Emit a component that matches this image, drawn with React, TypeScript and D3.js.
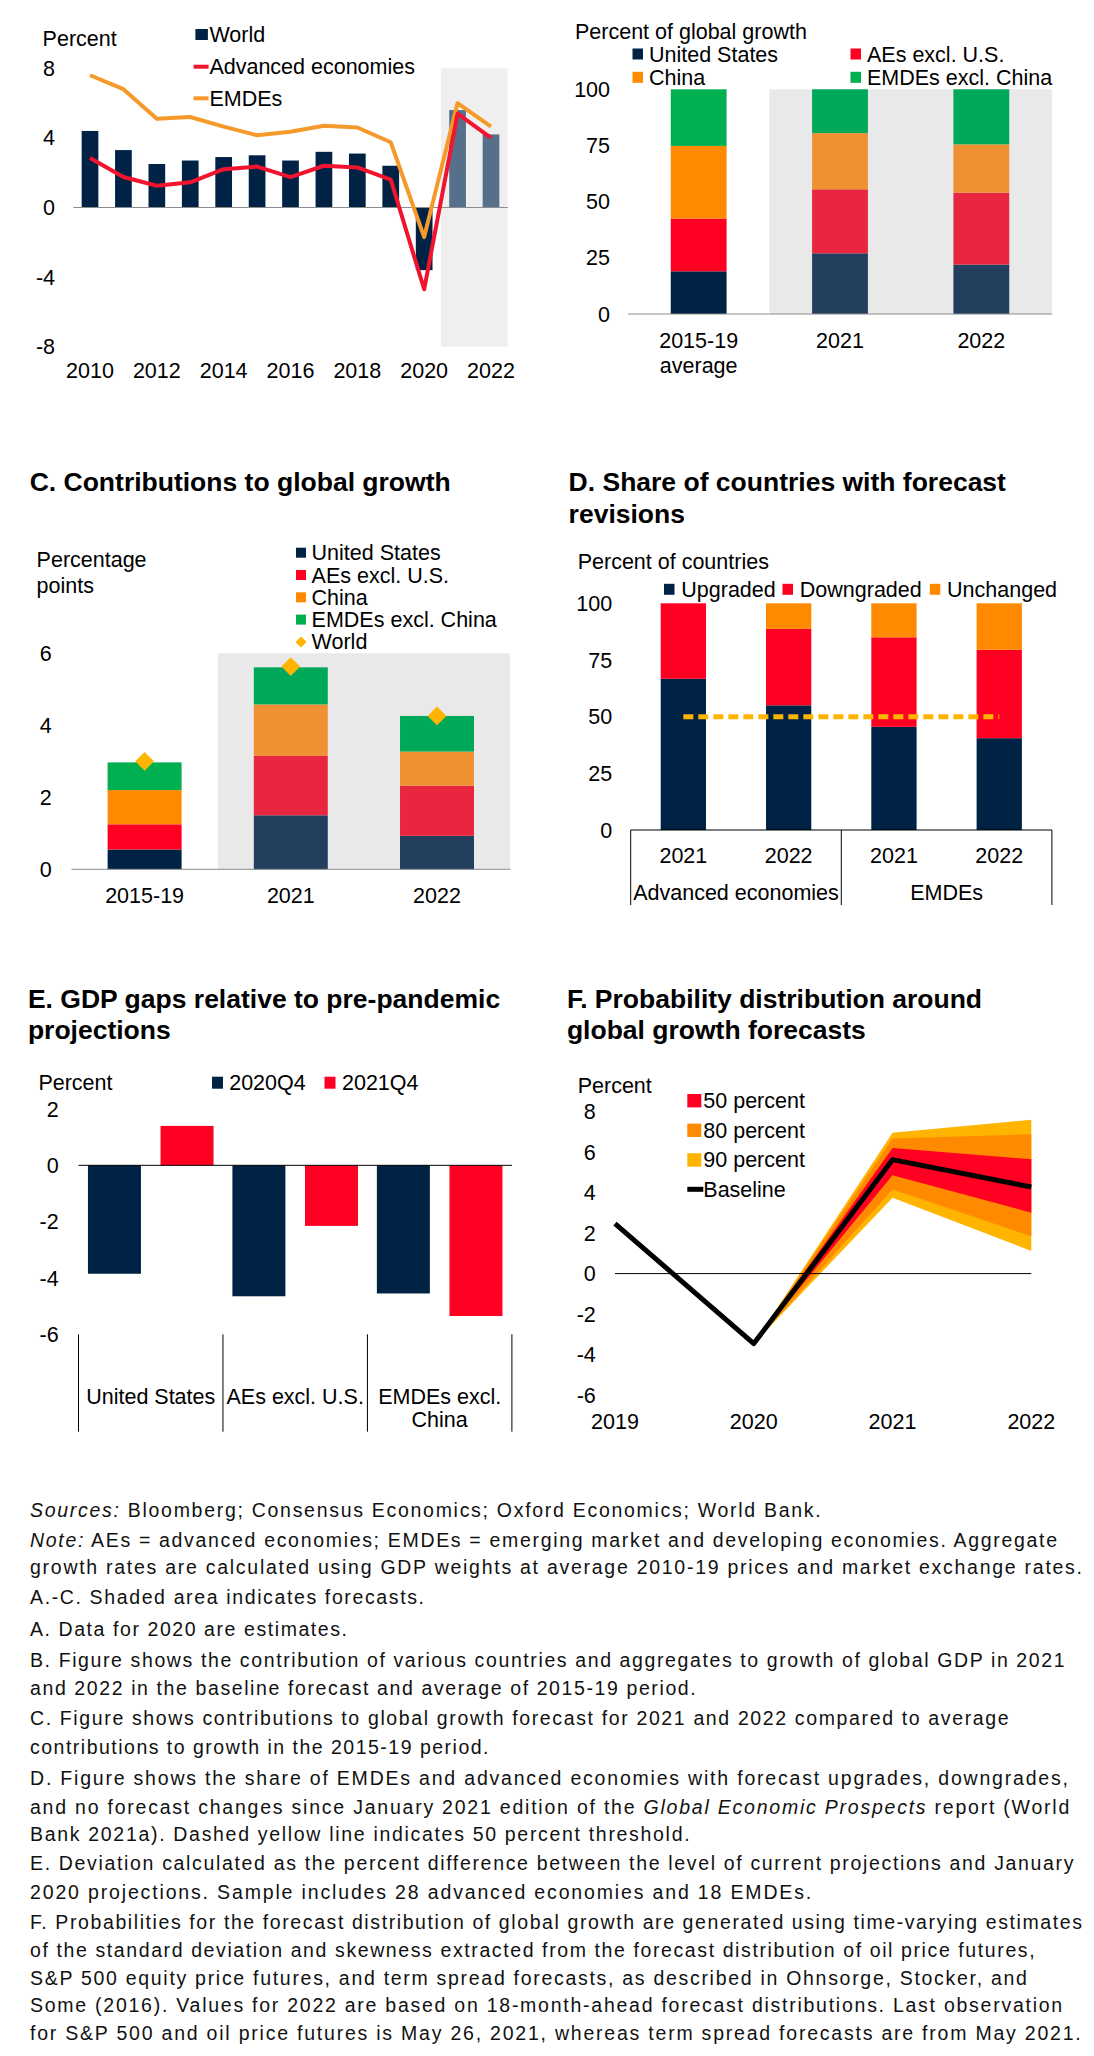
import * as d3 from "d3";

const FONT = "'Liberation Sans', Arial, Helvetica, sans-serif";
const NAVY = "#002345";
const RED = "#ff0022";
const ORANGE = "#ff8a00";
const GREEN = "#00b050";
const GOLD = "#ffb400";

// A. Global growth (percent)
const yearsA = ["2010", "2011", "2012", "2013", "2014", "2015", "2016", "2017", "2018", "2019", "2020", "2021", "2022"];
const worldA = [4.4, 3.3, 2.5, 2.7, 2.9, 3.0, 2.7, 3.2, 3.1, 2.4, -3.6, 5.6, 4.2];
const advancedA = [2.85, 1.75, 1.25, 1.45, 2.2, 2.35, 1.75, 2.4, 2.3, 1.6, -4.7, 5.4, 4.0];
const emdesA = [7.6, 6.8, 5.1, 5.2, 4.65, 4.15, 4.35, 4.7, 4.6, 3.75, -1.7, 6.0, 4.65];
const forecastYearsA = ["2021", "2022"];
const ticksA = [-8, -4, 0, 4, 8];
const yearLabelsA = ["2010", "2012", "2014", "2016", "2018", "2020", "2022"];

// B. Percent of global growth
const catsB = ["2015-19", "2021", "2022"];
const catLabelsB = [["2015-19", "average"], ["2021"], ["2022"]];
const usB = [19, 27, 22];
const aeB = [23.5, 28.5, 32];
const chinaB = [32.3, 25, 21.5];
const emdeB = [25.2, 19.5, 24.5];
const ticksB = [0, 25, 50, 75, 100];

// C. Contributions to global growth (percentage points)
const catsC = ["2015-19", "2021", "2022"];
const usC = [0.55, 1.5, 0.93];
const aeC = [0.7, 1.65, 1.39];
const chinaC = [0.95, 1.43, 0.95];
const emdeC = [0.77, 1.03, 0.99];
const worldC = [3.0, 5.63, 4.26];
const ticksC = [0, 2, 4, 6];

// D. Share of countries with forecast revisions
const catsD = ["AE 2021", "AE 2022", "EMDE 2021", "EMDE 2022"];
const yearLabelsD = ["2021", "2022", "2021", "2022"];
const groupsD = ["Advanced economies", "EMDEs"];
const upgradedD = [66.7, 55, 45.5, 40.5];
const downgradedD = [33.3, 33.7, 39.5, 39];
const unchangedD = [0, 11.3, 15, 20.5];
const thresholdD = 50;
const ticksD = [0, 25, 50, 75, 100];

// E. GDP gaps relative to pre-pandemic projections
const catsE = ["United States", "AEs excl. U.S.", "EMDEs excl. China"];
const catLabelsE = [["United States"], ["AEs excl. U.S."], ["EMDEs excl.", "China"]];
const seriesE = ["2020Q4", "2021Q4"];
const q4of2020E = [-3.85, -4.65, -4.55];
const q4of2021E = [1.4, -2.15, -5.35];
const ticksE = [-6, -4, -2, 0, 2];

// F. Probability distribution around global growth forecasts
const yearsF = ["2019", "2020", "2021", "2022"];
const baselineF = [2.47, -3.46, 5.63, 4.28];
const fanYearsF = ["2020", "2021", "2022"];
const hi90F = [-3.46, 6.96, 7.6];
const hi80F = [-3.46, 6.67, 6.88];
const hi50F = [-3.46, 6.21, 5.65];
const lo50F = [-3.46, 4.86, 3.01];
const lo80F = [-3.46, 4.15, 1.84];
const lo90F = [-3.46, 3.75, 1.12];
const ticksF = [-6, -4, -2, 0, 2, 4, 6, 8];

const notes = [
  "*Sources:* Bloomberg; Consensus Economics; Oxford Economics; World Bank.",
  "*Note:* AEs = advanced economies; EMDEs = emerging market and developing economies. Aggregate",
  "growth rates are calculated using GDP weights at average 2010-19 prices and market exchange rates.",
  "A.-C. Shaded area indicates forecasts.",
  "A. Data for 2020 are estimates.",
  "B. Figure shows the contribution of various countries and aggregates to growth of global GDP in 2021",
  "and 2022 in the baseline forecast and average of 2015-19 period.",
  "C. Figure shows contributions to global growth forecast for 2021 and 2022 compared to average",
  "contributions to growth in the 2015-19 period.",
  "D. Figure shows the share of EMDEs and advanced economies with forecast upgrades, downgrades,",
  "and no forecast changes since January 2021 edition of the *Global Economic Prospects* report (World",
  "Bank 2021a). Dashed yellow line indicates 50 percent threshold.",
  "E. Deviation calculated as the percent difference between the level of current projections and January",
  "2020 projections. Sample includes 28 advanced economies and 18 EMDEs.",
  "F. Probabilities for the forecast distribution of global growth are generated using time-varying estimates",
  "of the standard deviation and skewness extracted from the forecast distribution of oil price futures,",
  "S&P 500 equity price futures, and term spread forecasts, as described in Ohnsorge, Stocker, and",
  "Some (2016). Values for 2022 are based on 18-month-ahead forecast distributions. Last observation",
  "for S&P 500 and oil price futures is May 26, 2021, whereas term spread forecasts are from May 2021.",
];
// layout of the note block: baseline centre and right end of each line
const noteLineY = [1510, 1540, 1567.5, 1597, 1629, 1660, 1688.3, 1718.3, 1746.7, 1778.3, 1806.7, 1834.5, 1863.3, 1892.3, 1921.7, 1950, 1977.7, 2005.3, 2033.3];
const noteLineEnd = [820.7, 1057, 1082, 424, 347, 1064.6, 695.7, 1008.6, 488.5, 1067.9, 1069.3, 689.6, 1073.5, 811.2, 1082, 1034.6, 1026.9, 1062.2, 1080.7];
const NOTE_X = 30;

const FS = 21.5;

const stackColors: Record<string, [string, string]> = {
  us: [NAVY, "#243f5e"],
  ae: [RED, "#e8263f"],
  china: [ORANGE, "#ef9133"],
  emde: [GREEN, "#00a95a"],
};
const stackKeys = ["us", "ae", "china", "emde"];

function Txt(props: any) {
  return <text fontSize={FS} fill="#000" dy="0.35em" {...props} />;
}

function Title({ x, y, lines }: { x: number; y: number; lines: string[] }) {
  return (
    <text x={x} fontSize={26.5} fontWeight="bold" fill="#000">
      {lines.map((l, i) => (
        <tspan key={i} x={x} y={y + i * 31.7} dy="0.35em">
          {l}
        </tspan>
      ))}
    </text>
  );
}

function PanelA() {
  const x = d3.scaleBand<string>().domain(yearsA).range([73.3, 507.7]).paddingInner(0.5).paddingOuter(0.25);
  const y = d3.scaleLinear().domain([-8, 8]).range([346.7, 68.3]);
  const cx = (d: string) => (x(d) ?? 0) + x.bandwidth() / 2;
  const line = d3.line<number>().x((_, i) => cx(yearsA[i])).y((v) => y(v));
  const [r0, r1] = x.range();
  const shadeStart = (x(forecastYearsA[0]) ?? 0) - (x.step() * x.paddingInner()) / 2;
  return (
    <g>
      <rect x={shadeStart} y={y(8)} width={r1 - shadeStart} height={y(-8) - y(8)} fill="#efefef" />
      {yearsA.map((yr, i) => {
        const v = worldA[i];
        return (
          <rect
            key={yr}
            x={x(yr)}
            y={y(Math.max(0, v))}
            width={x.bandwidth()}
            height={Math.abs(y(v) - y(0))}
            fill={forecastYearsA.includes(yr) ? "#56708b" : NAVY}
          />
        );
      })}
      <line x1={r0} x2={r1} y1={y(0)} y2={y(0)} stroke="#8c8c8c" strokeWidth={1} />
      <path d={line(emdesA) ?? ""} fill="none" stroke="#f59a2a" strokeWidth={4} strokeLinejoin="round" />
      <path d={line(advancedA) ?? ""} fill="none" stroke="#f0142e" strokeWidth={4} strokeLinejoin="round" />
      {ticksA.map((t) => (
        <Txt key={t} x={55} y={y(t)} textAnchor="end">
          {t}
        </Txt>
      ))}
      {yearLabelsA.map((yr) => (
        <Txt key={yr} x={cx(yr)} y={370} textAnchor="middle">
          {yr}
        </Txt>
      ))}
      <Txt x={42.6} y={38.3}>Percent</Txt>
      {/* legend */}
      <rect x={195.4} y={29} width={12.5} height={11} fill={NAVY} />
      <Txt x={209.4} y={34.3}>World</Txt>
      <line x1={193.6} x2={208.6} y1={66.7} y2={66.7} stroke="#f0142e" strokeWidth={4} />
      <Txt x={209.4} y={66.7}>Advanced economies</Txt>
      <line x1={193.6} x2={208.6} y1={98.3} y2={98.3} stroke="#f59a2a" strokeWidth={4} />
      <Txt x={209.4} y={98.3}>EMDEs</Txt>
    </g>
  );
}

function PanelB() {
  const x = d3.scaleBand<string>().domain(catsB).range([628, 1052]).paddingInner(0.605).paddingOuter(0.3025);
  const y = d3.scaleLinear().domain([0, 100]).range([314, 89.3]);
  const rows = catsB.map((c, i) => ({ cat: c, us: usB[i], ae: aeB[i], china: chinaB[i], emde: emdeB[i] }));
  const series = d3.stack<any>().keys(stackKeys)(rows);
  const [r0, r1] = x.range();
  const shadeStart = (x(catsB[1]) ?? 0) - (x.step() * x.paddingInner()) / 2;
  const legend = [
    { key: "us", label: "United States", lx: 632.5, ly: 54 },
    { key: "ae", label: "AEs excl. U.S.", lx: 850.5, ly: 54 },
    { key: "china", label: "China", lx: 632.5, ly: 77.3 },
    { key: "emde", label: "EMDEs excl. China", lx: 850.5, ly: 77.3 },
  ];
  return (
    <g>
      <rect x={shadeStart} y={y(100)} width={r1 - shadeStart} height={y(0) - y(100)} fill="#e9e9e9" />
      {series.map((s) =>
        s.map((d, i) => (
          <rect
            key={s.key + i}
            x={x(catsB[i])}
            y={y(d[1])}
            width={x.bandwidth()}
            height={y(d[0]) - y(d[1])}
            fill={stackColors[s.key][i === 0 ? 0 : 1]}
          />
        ))
      )}
      <line x1={r0} x2={r1} y1={y(0)} y2={y(0)} stroke="#8c8c8c" strokeWidth={1} />
      {ticksB.map((t) => (
        <Txt key={t} x={610} y={y(t)} textAnchor="end">
          {t}
        </Txt>
      ))}
      {catLabelsB.map((ls, i) =>
        ls.map((l, j) => (
          <Txt key={l} x={(x(catsB[i]) ?? 0) + x.bandwidth() / 2} y={340 + j * 25.7} textAnchor="middle">
            {l}
          </Txt>
        ))
      )}
      <Txt x={575} y={31.7}>Percent of global growth</Txt>
      {legend.map((l) => (
        <g key={l.key}>
          <rect x={l.lx} y={l.ly - 5.5} width={10.5} height={11} fill={stackColors[l.key][0]} />
          <Txt x={l.lx + 16.5} y={l.ly}>
            {l.label}
          </Txt>
        </g>
      ))}
    </g>
  );
}

function PanelC() {
  const x = d3.scaleBand<string>().domain(catsC).range([71.5, 510.1]).paddingInner(0.494).paddingOuter(0.247);
  const y = d3.scaleLinear().domain([0, 6]).range([869.3, 653.3]);
  const rows = catsC.map((c, i) => ({ cat: c, us: usC[i], ae: aeC[i], china: chinaC[i], emde: emdeC[i] }));
  const series = d3.stack<any>().keys(stackKeys)(rows);
  const [r0, r1] = x.range();
  const shadeStart = (x(catsC[1]) ?? 0) - (x.step() * x.paddingInner()) / 2;
  const diamond = d3.symbol(d3.symbolSquare, 175)() ?? "";
  const legendDiamond = d3.symbol(d3.symbolSquare, 60)() ?? "";
  const legend = [
    { key: "us", label: "United States" },
    { key: "ae", label: "AEs excl. U.S." },
    { key: "china", label: "China" },
    { key: "emde", label: "EMDEs excl. China" },
  ];
  return (
    <g>
      <Title x={29.7} y={481.7} lines={["C. Contributions to global growth"]} />
      <rect x={shadeStart} y={y(6)} width={r1 - shadeStart} height={y(0) - y(6)} fill="#e9e9e9" />
      {series.map((s) =>
        s.map((d, i) => (
          <rect
            key={s.key + i}
            x={x(catsC[i])}
            y={y(d[1])}
            width={x.bandwidth()}
            height={y(d[0]) - y(d[1])}
            fill={stackColors[s.key][i === 0 ? 0 : 1]}
          />
        ))
      )}
      <line x1={r0} x2={r1} y1={y(0)} y2={y(0)} stroke="#8c8c8c" strokeWidth={1} />
      {catsC.map((c, i) => (
        <path
          key={c}
          d={diamond}
          transform={`translate(${(x(c) ?? 0) + x.bandwidth() / 2},${y(worldC[i])}) rotate(45)`}
          fill={GOLD}
        />
      ))}
      {ticksC.map((t) => (
        <Txt key={t} x={51.6} y={y(t)} textAnchor="end">
          {t}
        </Txt>
      ))}
      {catsC.map((c) => (
        <Txt key={c} x={(x(c) ?? 0) + x.bandwidth() / 2} y={895} textAnchor="middle">
          {c}
        </Txt>
      ))}
      <Txt x={36.6} y={559.3}>Percentage</Txt>
      <Txt x={36.6} y={585.7}>points</Txt>
      {legend.map((l, i) => (
        <g key={l.key}>
          <rect x={296} y={552.7 + i * 22.3 - 5} width={10} height={10} fill={stackColors[l.key][0]} />
          <Txt x={311.6} y={552.7 + i * 22.3}>
            {l.label}
          </Txt>
        </g>
      ))}
      <path d={legendDiamond} transform={`translate(301,${552.7 + 4 * 22.3}) rotate(45)`} fill={GOLD} />
      <Txt x={311.6} y={552.7 + 4 * 22.3}>World</Txt>
    </g>
  );
}

function PanelD() {
  const x = d3.scaleBand<string>().domain(catsD).range([630.7, 1051.9]).paddingInner(0.57).paddingOuter(0.285);
  const y = d3.scaleLinear().domain([0, 100]).range([830, 603.3]);
  const rows = catsD.map((c, i) => ({ cat: c, up: upgradedD[i], down: downgradedD[i], unch: unchangedD[i] }));
  const keys = ["up", "down", "unch"];
  const colors: Record<string, string> = { up: NAVY, down: RED, unch: ORANGE };
  const series = d3.stack<any>().keys(keys)(rows);
  const [r0, r1] = x.range();
  const mid = (x(catsD[2]) ?? 0) - (x.step() * x.paddingInner()) / 2;
  const cx = (c: string) => (x(c) ?? 0) + x.bandwidth() / 2;
  const legend = [
    { key: "up", label: "Upgraded", lx: 664 },
    { key: "down", label: "Downgraded", lx: 782.5 },
    { key: "unch", label: "Unchanged", lx: 929.8 },
  ];
  return (
    <g>
      <Title x={568.6} y={481.7} lines={["D. Share of countries with forecast", "revisions"]} />
      {series.map((s) =>
        s.map((d, i) => (
          <rect
            key={s.key + i}
            x={x(catsD[i])}
            y={y(d[1])}
            width={x.bandwidth()}
            height={y(d[0]) - y(d[1])}
            fill={colors[s.key]}
          />
        ))
      )}
      <line
        x1={cx(catsD[0])}
        x2={cx(catsD[3])}
        y1={y(thresholdD)}
        y2={y(thresholdD)}
        stroke={GOLD}
        strokeWidth={5}
        strokeDasharray="10 5"
      />
      <g stroke="#000" strokeWidth={1}>
        <line x1={r0} x2={r1} y1={y(0)} y2={y(0)} />
        <line x1={r0} x2={r0} y1={y(0)} y2={905} />
        <line x1={mid} x2={mid} y1={y(0)} y2={905} />
        <line x1={r1} x2={r1} y1={y(0)} y2={905} />
      </g>
      {ticksD.map((t) => (
        <Txt key={t} x={612.2} y={y(t)} textAnchor="end">
          {t}
        </Txt>
      ))}
      {catsD.map((c, i) => (
        <Txt key={c} x={cx(c)} y={855} textAnchor="middle">
          {yearLabelsD[i]}
        </Txt>
      ))}
      <Txt x={(r0 + mid) / 2} y={892.7} textAnchor="middle">
        {groupsD[0]}
      </Txt>
      <Txt x={(mid + r1) / 2} y={892.7} textAnchor="middle">
        {groupsD[1]}
      </Txt>
      <Txt x={577.7} y={561.7}>Percent of countries</Txt>
      {legend.map((l) => (
        <g key={l.key}>
          <rect x={l.lx} y={589.3 - 5.5} width={10.5} height={11} fill={colors[l.key]} />
          <Txt x={l.lx + 17.3} y={589.3}>
            {l.label}
          </Txt>
        </g>
      ))}
    </g>
  );
}

function PanelE() {
  const xo = d3.scaleBand<string>().domain(catsE).range([78.5, 511.9]);
  const xi = d3.scaleBand<string>().domain(seriesE).range([0, xo.bandwidth()]).paddingInner(0.27).paddingOuter(0.13);
  const y = d3.scaleLinear().domain([-6, 2]).range([1334.3, 1109]);
  const values = [q4of2020E, q4of2021E];
  const colors = [NAVY, RED];
  const [r0, r1] = xo.range();
  const bounds = [...catsE.map((c) => xo(c) ?? 0), r1];
  return (
    <g>
      <Title x={27.9} y={998.3} lines={["E. GDP gaps relative to pre-pandemic", "projections"]} />
      {catsE.map((c, i) =>
        seriesE.map((s, j) => {
          const v = values[j][i];
          return (
            <rect
              key={c + s}
              x={(xo(c) ?? 0) + (xi(s) ?? 0)}
              y={y(Math.max(0, v))}
              width={xi.bandwidth()}
              height={Math.abs(y(v) - y(0))}
              fill={colors[j]}
            />
          );
        })
      )}
      <line x1={r0} x2={r1} y1={y(0)} y2={y(0)} stroke="#000" strokeWidth={1} />
      {bounds.map((b, i) => (
        <line key={i} x1={b} x2={b} y1={y(-6)} y2={1431.7} stroke="#000" strokeWidth={1} />
      ))}
      {ticksE.map((t) => (
        <Txt key={t} x={58.6} y={y(t)} textAnchor="end">
          {t}
        </Txt>
      ))}
      {catLabelsE.map((ls, i) =>
        ls.map((l, j) => (
          <Txt key={l} x={(xo(catsE[i]) ?? 0) + xo.bandwidth() / 2} y={1396 + j * 23.3} textAnchor="middle">
            {l}
          </Txt>
        ))
      )}
      <Txt x={38.4} y={1082.7}>Percent</Txt>
      {seriesE.map((s, j) => (
        <g key={s}>
          <rect x={[212, 324.5][j]} y={1082.7 - 6} width={11} height={12} fill={colors[j]} />
          <Txt x={[229.2, 342][j]} y={1082.7}>
            {s}
          </Txt>
        </g>
      ))}
    </g>
  );
}

function PanelF() {
  const x = d3.scalePoint<string>().domain(yearsF).range([615, 1031.3]);
  const y = d3.scaleLinear().domain([-6, 8]).range([1395, 1111.7]);
  const band = (lo: number[], hi: number[]) =>
    d3
      .area<number>()
      .x((_, i) => x(fanYearsF[i]) ?? 0)
      .y0((_, i) => y(lo[i]))
      .y1((_, i) => y(hi[i]))(lo) ?? "";
  const line = d3
    .line<number>()
    .x((_, i) => x(yearsF[i]) ?? 0)
    .y((v) => y(v));
  const [r0, r1] = x.range();
  const legend = [
    { label: "50 percent", color: RED },
    { label: "80 percent", color: ORANGE },
    { label: "90 percent", color: GOLD },
  ];
  return (
    <g>
      <Title x={566.9} y={998.3} lines={["F. Probability distribution around", "global growth forecasts"]} />
      <path d={band(lo90F, hi90F)} fill={GOLD} />
      <path d={band(lo80F, hi80F)} fill={ORANGE} />
      <path d={band(lo50F, hi50F)} fill={RED} />
      <line x1={r0} x2={r1} y1={y(0)} y2={y(0)} stroke="#000" strokeWidth={1} />
      <path d={line(baselineF) ?? ""} fill="none" stroke="#000" strokeWidth={5} strokeLinejoin="round" />
      {ticksF.map((t) => (
        <Txt key={t} x={595.8} y={y(t)} textAnchor="end">
          {t}
        </Txt>
      ))}
      {yearsF.map((yr) => (
        <Txt key={yr} x={x(yr)} y={1421} textAnchor="middle">
          {yr}
        </Txt>
      ))}
      <Txt x={577.7} y={1085}>Percent</Txt>
      {legend.map((l, i) => (
        <g key={l.label}>
          <rect x={687.3} y={1100.7 + i * 29.6 - 6.7} width={14} height={13.4} fill={l.color} />
          <Txt x={703.3} y={1100.7 + i * 29.6}>
            {l.label}
          </Txt>
        </g>
      ))}
      <line x1={687.3} x2={703.3} y1={1189.3} y2={1189.3} stroke="#000" strokeWidth={5} />
      <Txt x={703.3} y={1189.3}>Baseline</Txt>
    </g>
  );
}

function Notes() {
  return (
    <g>
      {notes.map((n, i) => (
        <text
          key={i}
          x={NOTE_X}
          y={noteLineY[i]}
          dy="0.35em"
          fontSize={19.5}
          fill="#111"
          textLength={noteLineEnd[i] - NOTE_X}
          lengthAdjust="spacing"
        >
          {n.split("*").map((seg, j) => (
            <tspan key={j} fontStyle={j % 2 === 1 ? "italic" : "normal"}>
              {seg}
            </tspan>
          ))}
        </text>
      ))}
    </g>
  );
}

export default function App() {
  return (
    <svg
      width={1094}
      height={2056}
      viewBox="0 0 1094 2056"
      fontFamily={FONT}
      style={{ position: "absolute", left: 0, top: 0, background: "#fff" }}
    >
      <rect width={1094} height={2056} fill="#fff" />
      <PanelA />
      <PanelB />
      <PanelC />
      <PanelD />
      <PanelE />
      <PanelF />
      <Notes />
    </svg>
  );
}
